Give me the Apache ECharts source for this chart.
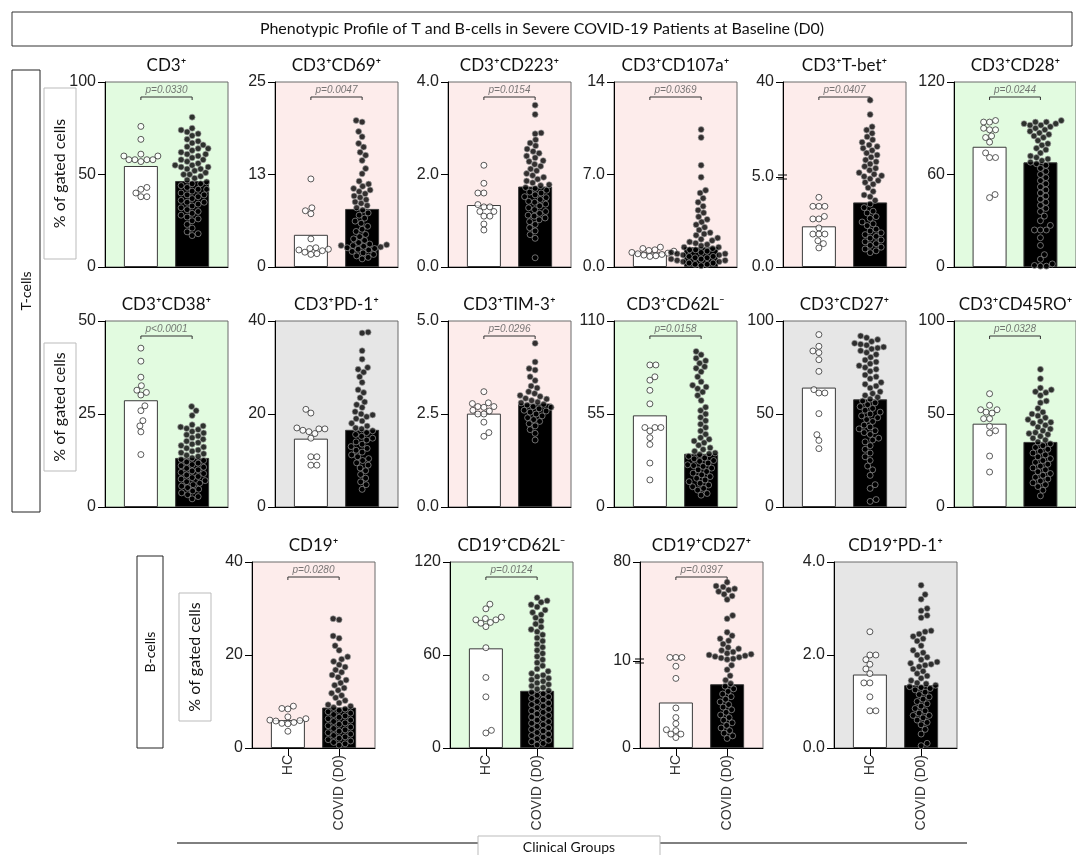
<!DOCTYPE html>
<html><head><meta charset="utf-8">
<script src="https://cdn.jsdelivr.net/npm/echarts@6/dist/echarts.min.js"></script>
<style>html,body{margin:0;padding:0;background:#fff}#c{width:1076px;height:855px}</style>
</head><body><div id="c"></div>
<script>
// ---------------- DATA ----------------
const panelTitles = ['CD3⁺','CD3⁺CD69⁺','CD3⁺CD223⁺','CD3⁺CD107a⁺','CD3⁺T-bet⁺','CD3⁺CD28⁺',
  'CD3⁺CD38⁺','CD3⁺PD-1⁺','CD3⁺TIM-3⁺','CD3⁺CD62L⁻','CD3⁺CD27⁺','CD3⁺CD45RO⁺',
  'CD19⁺','CD19⁺CD62L⁻','CD19⁺CD27⁺','CD19⁺PD-1⁺'];
const categories = ['HC','COVID (D0)'];
const yMax = [100,25,4,14,40,120, 50,40,5,110,100,100, 40,120,80,4];
const yBreak = [null,null,null,null,5,null, null,null,null,null,null,null, null,null,10,null];
const yTickLabels = [['0','50','100'],['0','13','25'],['0.0','2.0','4.0'],['0.0','7.0','14'],['0.0','5.0','40'],['0','60','120'],
  ['0','25','50'],['0','20','40'],['0.0','2.5','5.0'],['0','55','110'],['0','50','100'],['0','50','100'],
  ['0','20','40'],['0','60','120'],['0','10','80'],['0.0','2.0','4.0']];
const hcBars = [54.6,4.35,1.34,1.1,2.26,78, 28.7,14.7,2.51,54.2,64.2,44.8, 6.0,64.3,5.23,1.58];
const covidBars = [46.5,7.85,1.74,1.5,3.59,67.9, 13.2,16.6,2.78,31.5,57.9,35, 8.7,36.9,7.33,1.35];
const pValues = ['p=0.0330','p=0.0047','p=0.0154','p=0.0369','p=0.0407','p=0.0244',
  'p<0.0001','','p=0.0296','p=0.0158','','p=0.0328',
  'p=0.0280','p=0.0124','p=0.0397',''];

const hc_CD3 = [76,69,61,60,60,58,58,58,58,57,43,42,40,38,38];
const covid_CD3 = [81,75,74,73,72,71,69,68,67,66,65,64,64,63,62,61,61,60,59,58,58,57,56,55,55,54,54,53,53,52,51,50,50,49,48,47,46,45,45,44,43,42,42,41,40,39,39,38,37,36,35,35,34,33,32,31,30,29,28,27,26,25,23,21,19,18,17];
const hc_CD69 = [11.9,8.0,7.6,7.2,3.8,2.6,2.5,2.4,2.3,2.2,2.0,1.8,1.7];
const covid_CD69 = [19.8,19.6,18.3,17.6,16.7,16.2,15.5,15.1,14.4,13.3,12.6,11.6,11.2,10.9,10.6,10.4,10.2,9.9,9.6,9.4,9.1,8.8,8.6,8.3,8.0,7.7,7.3,7.0,6.6,6.2,5.9,5.5,5.1,4.8,4.4,4.1,3.8,3.6,3.3,3.1,3.0,2.9,2.9,2.8,2.7,2.6,2.5,2.4,2.3,2.1,1.9,1.7,1.5,1.3,1.1];
const hc_CD223 = [2.2,1.81,1.6,1.6,1.35,1.3,1.3,1.2,1.2,1.1,1.1,0.93,0.8];
const covid_CD223 = [3.5,3.3,2.9,2.88,2.75,2.68,2.62,2.55,2.5,2.46,2.4,2.36,2.3,2.28,2.22,2.18,2.12,2.08,2.02,1.98,1.94,1.9,1.86,1.82,1.78,1.76,1.72,1.7,1.66,1.62,1.6,1.56,1.52,1.5,1.46,1.42,1.4,1.36,1.32,1.28,1.24,1.2,1.16,1.12,1.1,1.06,1.02,0.98,0.92,0.85,0.78,0.7,0.62,0.2];
const hc_CD107a = [1.5,1.4,1.3,1.25,1.2,1.1,1.05,1.0,0.95,0.9,0.85,0.8];
const covid_CD107a = [10.4,9.8,7.7,6.8,5.8,5.6,5.2,4.9,4.6,4.3,4.1,3.8,3.6,3.4,3.2,3.0,2.8,2.6,2.5,2.4,2.2,2.1,2.0,1.9,1.8,1.7,1.6,1.5,1.5,1.4,1.3,1.3,1.2,1.1,1.1,1.0,1.0,0.9,0.9,0.8,0.8,0.7,0.7,0.6,0.6,0.5,0.5,0.4,0.4,0.3,0.3,0.2,0.2,0.1];
const hc_Tbet = [3.87,3.37,3.37,3.37,2.81,2.67,2.67,2.17,1.83,1.83,1.83,1.46,1.3,1.06];
const covid_Tbet = [33.3,28.0,23.5,22.3,21.1,19.8,18.7,17.8,16.8,16.2,15.6,14.8,13.8,13.1,12.3,11.3,10.6,9.8,8.9,8.2,7.5,6.6,6.0,5.5,5.2,4.9,4.8,4.7,4.6,4.4,4.2,4.0,3.9,3.7,3.5,3.3,3.1,3.0,2.8,2.7,2.5,2.4,2.3,2.1,2.0,1.9,1.8,1.7,1.6,1.5,1.4,1.3,1.2,1.1,1.0,0.9,0.8];
const hc_CD28 = [95,94,94,90,89,89,85,84,81,74,71,71,47,45];
const covid_CD28 = [95,94,94,93,93,92,92,91,90,89,88,87,86,85,84,82,80,79,77,76,74,72,71,70,69,68,67,66,64,62,60,58,56,54,52,50,48,46,44,42,40,38,36,33,30,27,24,24,24,19,14,8,5,2,1,0.5,0.5];
const hc_CD38 = [42.7,39.2,34.9,32.6,31.4,30.8,30.1,27.2,25.9,23.2,21.8,20.2,14.1];
const covid_CD38 = [27.0,25.9,24.6,22.1,21.8,21.5,21.1,20.8,20.3,19.9,19.4,19.1,18.6,18.2,17.7,17.3,16.9,16.5,16.1,15.8,15.3,15.0,14.6,14.3,13.9,13.6,13.2,12.8,12.5,12.1,11.8,11.4,11.1,10.7,10.4,10.0,9.7,9.3,9.0,8.6,8.2,7.9,7.5,7.1,6.8,6.4,6.0,5.6,5.2,4.8,4.3,3.8,3.3,2.8,2.2];
const hc_PD1 = [21,20.2,17,16.8,16.8,16.5,16.2,15.8,14.8,10.8,10.8,9,9];
const covid_PD1 = [37.6,37.4,33.6,31.8,30.0,29.6,29.0,28.0,26.8,25.2,24.6,23.5,22.6,22.0,21.4,20.5,20.0,19.8,19.4,19.0,18.5,18.0,17.4,17.0,16.8,16.4,16.0,15.6,15.2,14.8,14.4,14.0,13.5,13.0,12.6,12.2,11.8,11.2,10.8,10.4,10.0,9.5,9.0,8.4,7.8,7.0,6.2,5.4,4.8,3.8];
const hc_TIM3 = [3.1,2.8,2.78,2.7,2.7,2.68,2.6,2.58,2.5,2.5,2.28,2.0,1.9];
const covid_TIM3 = [4.4,3.9,3.72,3.68,3.5,3.4,3.25,3.2,3.1,3.05,3.0,2.97,2.92,2.9,2.86,2.82,2.8,2.76,2.74,2.7,2.68,2.64,2.6,2.58,2.55,2.5,2.45,2.4,2.35,2.3,2.24,2.18,2.08,1.98,1.8];
const hc_CD62L = [84,84,77,75,69,61,47,47,47,45,41,37,26,16];
const covid_CD62L = [92,90,88,86.5,85,83,82,80,77,74,72,71,70,68,66,63,59,57,55,53,51,49,47,45,43,41,40,39,38,36.5,35,34,33,32,31.5,31,30,29,28.5,27.5,27,26,25,24.5,24,23,22,21,20,19,18,17,16,15,14,13,12,11,10,8,7];
const hc_CD27 = [92.7,86.4,83.9,83,79.2,72.9,63.1,61.3,61.3,50.2,38.9,35.8,31.4];
const covid_CD27 = [92,91,90,89,88,87.5,87,86,85.5,85,84,83,82,80.5,79,78,77,76,75,74,73,71,70,69,67,66,65,64,62,61,60,59,58,57,56,55,54,53,52,51,50,49,48,47,46,44,43,42,41,40,39,37,36,35,33,31,29,27,25,22,20,17,12,10,4,3];
const hc_CD45RO = [60.9,54.7,52.3,52.3,51,50.5,47.5,47.5,43.4,41,39.8,27.4,18.8];
const covid_CD45RO = [74,69,64,63,62,61.5,60,57,56,53,51,50,49,48,47,46,45.5,45,44,43,42,41,40,39.5,39,38,37,36,35,34,33,32,31,30,29,28,27,26,25,24,23,22,21,20,19,18,17,16,15,14,13,12,11,9,6];
const hc_CD19 = [9.0,8.5,8.4,6.7,6.3,6.0,5.9,5.8,5.5,5.3,5.2,3.6];
const covid_CD19 = [27.8,27.6,24.1,23.6,22.0,21.0,19.6,19.1,18.6,17.9,17.4,16.8,16.3,15.7,15.2,14.6,14.0,13.5,12.9,12.4,11.8,11.3,10.8,10.2,9.7,9.3,9.0,8.7,8.4,8.1,7.8,7.5,7.2,6.9,6.6,6.3,6.0,5.7,5.4,5.1,4.8,4.5,4.2,3.9,3.6,3.3,3.0,2.7,2.4,2.1,1.8,1.5,1.2,0.9,0.6];
const hc_CD19CD62L = [92.8,89.8,84.4,83.5,82.7,82.7,81,80.5,78.3,64.7,45.5,33,11.4,9.7];
const covid_CD19CD62L = [97,95,94,92.5,91,89,87.5,86,84,82,80,78,76.5,75,73,71,69,67,65,63,61,59,57,55,53,51,49.5,48,47,46,45,44,43,42,41,40,39,38,37,36,35,34,33,32,31,30,29,28,27,26,25,24,23,22,21,20,19,18,17,16,15,14,13,12,11,10,9,8,7,6,5,4,3,2];
const hc_CD19CD27 = [12.5,12.5,12.5,9.4,8.0,4.6,3.5,2.8,2.1,2.0,1.6,1.6,1.2];
const covid_CD19CD27 = [65.7,63.0,62.4,61.0,60.2,59.1,57.2,56.0,53.4,42.2,39.9,30.3,27.9,25.8,24.3,22.0,19.6,18.6,17.5,16.4,15.4,14.8,14.3,13.7,13.1,12.6,12.1,11.6,11.1,9.5,9.0,8.3,7.8,7.4,7.1,6.8,6.5,6.2,5.9,5.6,5.3,5.0,4.7,4.4,4.1,3.8,3.5,3.2,2.9,2.6,2.3,2.0,1.7,1.4,1.1];
const hc_CD19PD1 = [2.5,2.0,2.0,1.9,1.8,1.7,1.6,1.4,1.4,1.1,0.8,0.8];
const covid_CD19PD1 = [3.5,3.3,3.2,3.0,2.95,2.85,2.8,2.52,2.5,2.45,2.4,2.35,2.3,2.2,2.1,2.05,2.0,1.95,1.9,1.85,1.82,1.8,1.78,1.75,1.7,1.65,1.6,1.55,1.5,1.45,1.4,1.38,1.35,1.32,1.3,1.28,1.25,1.2,1.15,1.1,1.05,1.0,0.95,0.9,0.85,0.8,0.75,0.7,0.7,0.65,0.6,0.55,0.5,0.4,0.3,0.1,0.05];

const hcPoints = [hc_CD3,hc_CD69,hc_CD223,hc_CD107a,hc_Tbet,hc_CD28,hc_CD38,hc_PD1,hc_TIM3,hc_CD62L,hc_CD27,hc_CD45RO,hc_CD19,hc_CD19CD62L,hc_CD19CD27,hc_CD19PD1];
const covidPoints = [covid_CD3,covid_CD69,covid_CD223,covid_CD107a,covid_Tbet,covid_CD28,covid_CD38,covid_PD1,covid_TIM3,covid_CD62L,covid_CD27,covid_CD45RO,covid_CD19,covid_CD19CD62L,covid_CD19CD27,covid_CD19PD1];

// ---------------- LAYOUT / STYLE ----------------
const GREEN='#e2fbe0', PINK='#fdeceb', GRAY='#e6e6e6';
const panelBg = [GREEN,PINK,PINK,PINK,PINK,GREEN, GREEN,GRAY,PINK,GREEN,GRAY,GREEN, PINK,GREEN,PINK,GRAY];
const rowTops = [82,321,562], rowH = [185,186,186];
const rowLefts = [[105,275,448,614,783,954],[105,275,448,614,783,954],[252,450,640,834]];
const PW = 123, XMIN = -0.7, XMAX = 1.7, BARW = 34, SYM = 6;
const breakFrac = {4:0.486, 14:0.47};
const FONT = 'Liberation Sans';
const LFONT = 'Lato';

function swarm(vals, toPx, d){
  const order = vals.map((v,i)=>i).sort((a,b)=>vals[a]-vals[b]);
  const placed = []; const off = new Array(vals.length).fill(0);
  for (const i of order){
    const y = toPx(vals[i]);
    let chosen = 0;
    for (let k=0;k<120;k++){
      const cands = k===0?[0]:(placed.length%2? [k*0.5,-k*0.5]:[-k*0.5,k*0.5]);
      let ok=false;
      for (const c of cands){
        let free = true;
        for (const p of placed){
          const dy=p[1]-y, dx=p[0]-c;
          if (dx*dx+dy*dy < d*d){ free=false; break; }
        }
        if (free){ chosen=c; ok=true; break; }
      }
      if (ok) break;
    }
    placed.push([chosen,y]); off[i]=chosen;
  }
  return off;
}

const grids=[], xAxes=[], yAxes=[], series=[], graphics=[];
const pxPerX = PW/(XMAX-XMIN);

function xAxisFor(gi, show, isBottom){
  return {gridIndex:gi, type:'value', min:XMIN, max:XMAX, show:show,
    axisLine:{show:true, onZero:false, lineStyle:{color:'#000',width:1}},
    axisTick: isBottom?{show:true, customValues:[0,1], length:8, lineStyle:{color:'#000'}}:{show:false},
    axisLabel: isBottom?{show:true, customValues:[0,1], rotate:90, margin:7, fontSize:14, color:'#333', fontFamily:FONT,
      formatter:v=> (Math.abs(v)<1e-6?categories[0]:(Math.abs(v-1)<1e-6?categories[1]:''))}:{show:false},
    splitLine:{show:false}};
}
function yAxisFor(gi, min, max, interval, fmt){
  return {gridIndex:gi, type:'value', min:min, max:max, interval:interval,
    axisLine:{show:true, onZero:false, lineStyle:{color:'#000',width:1}},
    axisTick:{show:true, length:7, lineStyle:{color:'#000'}},
    axisLabel:{show:true, margin:9, fontSize:16, color:'#222', fontFamily:FONT, formatter:fmt},
    splitLine:{show:false}};
}
function ptItem(hc){ return hc?{color:'#fff',borderColor:'#333',borderWidth:1}:{color:'#000',borderColor:'#a8a8a8',borderWidth:0.8}; }

let idx=0;
for (let r=0;r<3;r++){
  rowLefts[r].forEach((L)=>{
    const i = idx++;
    const T = rowTops[r], H = rowH[r];
    const isBottom = r===2;
    const labels = yTickLabels[i];
    const max = yMax[i];
    const gMain = grids.length;
    grids.push({left:L, top:T, width:PW, height:H, show:true, backgroundColor:panelBg[i], borderColor:'#6a6a6a', borderWidth:1});
    xAxes.push(xAxisFor(gMain, true, isBottom));
    const brk = yBreak[i];
    let toPx, lowG, upG, Hl, Hu;
    if (brk===null){
      yAxes.push(yAxisFor(gMain, 0, max, max/2, v=>labels[Math.round(v/(max/2))]||''));
      toPx = v=>v/max*H; lowG = gMain; upG = gMain;
    } else {
      yAxes.push({gridIndex:gMain, type:'value', min:0, max:1, show:false});
      Hl = Math.round(H*breakFrac[i]); Hu = H-Hl;
      lowG = grids.length;
      grids.push({left:L, top:T+Hu, width:PW, height:Hl});
      xAxes.push(xAxisFor(lowG, false, false));
      yAxes.push(yAxisFor(lowG, 0, brk, brk, v=>(v<1e-9?labels[0]:labels[1])));
      upG = grids.length;
      grids.push({left:L, top:T, width:PW, height:Hu});
      xAxes.push(xAxisFor(upG, false, false));
      yAxes.push(yAxisFor(upG, brk, max, max-brk, v=>(Math.abs(v-max)<1e-9?labels[2]:'')));
      toPx = v=> v<=brk ? v/brk*Hl : Hl+(v-brk)/(max-brk)*Hu;
      const by = T+Hu;
      graphics.push({type:'line', shape:{x1:L-5,y1:by-2,x2:L+4,y2:by-2}, style:{stroke:'#000',lineWidth:1}, z:100});
      graphics.push({type:'line', shape:{x1:L-5,y1:by+2,x2:L+4,y2:by+2}, style:{stroke:'#000',lineWidth:1}, z:100});
    }
    series.push({type:'bar', xAxisIndex:lowG, yAxisIndex:lowG, barWidth:BARW, silent:true, z:2,
      data:[{value:[0,hcBars[i]], itemStyle:{color:'#fff',borderColor:'#3a3a3a',borderWidth:1}},
            {value:[1,covidBars[i]], itemStyle:{color:'#000',borderColor:'#3a3a3a',borderWidth:1}}]});
    [[hcPoints[i],0,true],[covidPoints[i],1,false]].forEach(([vals,cx,hc])=>{
      const off = swarm(vals, toPx, 6);
      const low=[], up=[];
      vals.forEach((v,k)=>{
        const pt=[cx+off[k]/pxPerX, v];
        if (brk!==null && v>brk) up.push(pt); else low.push(pt);
      });
      series.push({type:'scatter', xAxisIndex:lowG, yAxisIndex:lowG, symbolSize:SYM, silent:true, z:3, itemStyle:ptItem(hc), data:low});
      if (up.length) series.push({type:'scatter', xAxisIndex:upG, yAxisIndex:upG, symbolSize:SYM, silent:true, z:3, itemStyle:ptItem(hc), data:up});
    });
    if (pValues[i]){
      let yb, dlt;
      if (brk===null){ yb = max*(1-15/H); dlt = 3/H*max; }
      else { yb = brk+(max-brk)*(1-15/Hu); dlt = 3/Hu*(max-brk); }
      series.push({type:'line', xAxisIndex:upG, yAxisIndex:upG, symbol:'none', silent:true, z:4,
        lineStyle:{color:'#333',width:1}, data:[[0,yb-dlt],[0,yb],[1,yb],[1,yb-dlt]]});
      series.push({type:'scatter', xAxisIndex:upG, yAxisIndex:upG, symbolSize:1, silent:true, z:4,
        itemStyle:{color:'rgba(0,0,0,0)'},
        label:{show:true, position:'top', distance:1, formatter:pValues[i], fontSize:10, fontStyle:'italic', color:'#555', fontFamily:FONT},
        data:[[0.5,yb]]});
    }
    graphics.push({type:'text', x:L+PW/2, y:T-16, z:100,
      style:{text:panelTitles[i], fill:'#111', font:'17px '+LFONT, textAlign:'center', textVerticalAlign:'middle'}});
  });
}

function vbox(x,y,w,h,text,stroke,fs){
  graphics.push({type:'rect', shape:{x:x,y:y,width:w,height:h}, style:{fill:'#fff',stroke:stroke,lineWidth:1}, z:90});
  graphics.push({type:'text', x:x+w/2, y:y+h/2, rotation:Math.PI/2, z:91,
    style:{text:text, fill:'#111', font:fs+'px '+LFONT, textAlign:'center', textVerticalAlign:'middle'}});
}
graphics.push({type:'rect', shape:{x:12,y:12,width:1060,height:34}, style:{fill:'#fff',stroke:'#333',lineWidth:1}, z:90});
graphics.push({type:'text', x:542, y:29, z:91, style:{text:'Phenotypic Profile of T and B-cells in Severe COVID-19 Patients at Baseline (D0)', fill:'#111', font:'16px '+LFONT, textAlign:'center', textVerticalAlign:'middle'}});
vbox(12,70,28,442,'T-cells','#222',14);
vbox(137,556,26,192,'B-cells','#222',14);
vbox(44,88,32,171,'% of gated cells','#bbb',16);
vbox(44,343,32,128,'% of gated cells','#bbb',16);
vbox(179,593,32,128,'% of gated cells','#bbb',16);
graphics.push({type:'line', shape:{x1:177,y1:843,x2:967,y2:843}, style:{stroke:'#000',lineWidth:1}, z:90});
graphics.push({type:'rect', shape:{x:478,y:836,width:182,height:26}, style:{fill:'#fff',stroke:'#bbb',lineWidth:1}, z:91});
graphics.push({type:'text', x:569, y:847, z:92, style:{text:'Clinical Groups', fill:'#111', font:'14px '+LFONT, textAlign:'center', textVerticalAlign:'middle'}});

const chart = echarts.init(document.getElementById('c'), null, {renderer:'canvas'});
chart.setOption({animation:false, backgroundColor:'#fff', grid:grids, xAxis:xAxes, yAxis:yAxes, series:series, graphic:graphics});
</script></body></html>
